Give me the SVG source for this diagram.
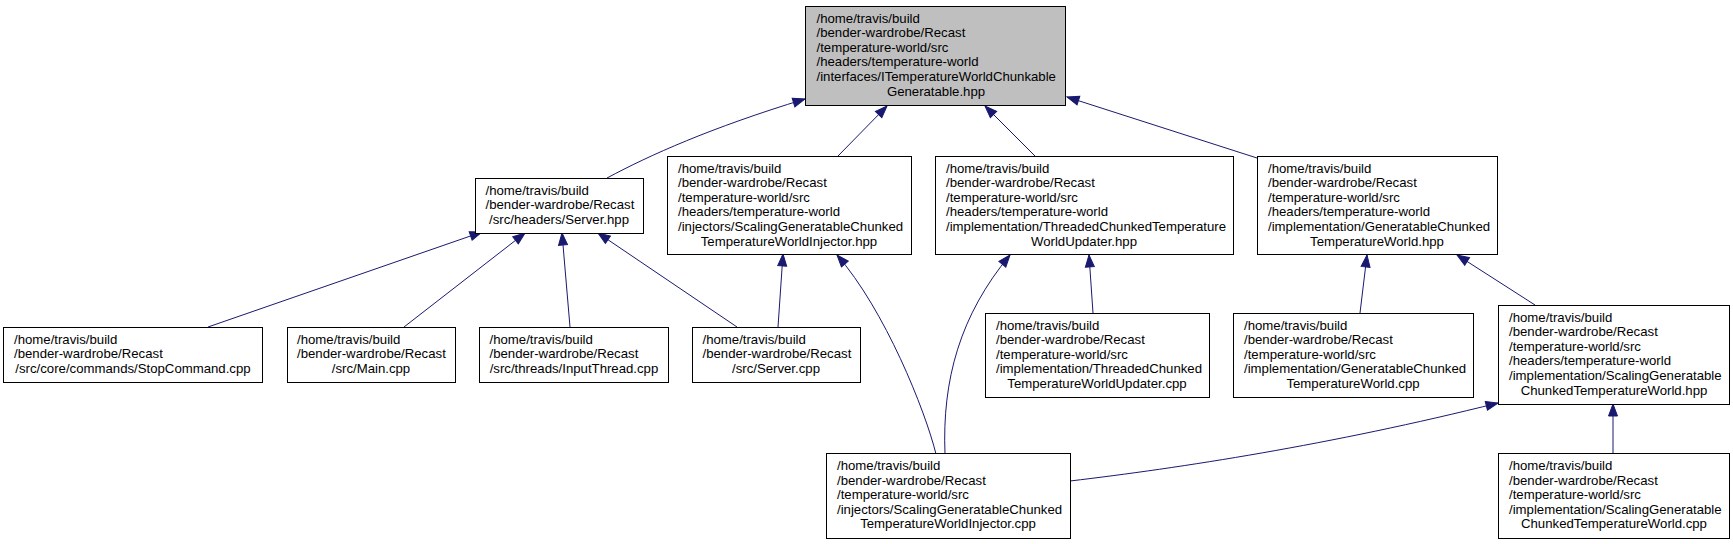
<svg xmlns="http://www.w3.org/2000/svg" width="1733" height="544" viewBox="0 0 1733 544">
<style>
.n rect{fill:#ffffff;stroke:#000000;stroke-width:1}
.n.root rect{fill:#bfbfbf}
.n text{font-family:"Liberation Sans",Arial,Helvetica,sans-serif;font-size:13.2px;fill:#000000}
.n text.c{text-anchor:middle}
.e path{fill:none;stroke:#191970;stroke-width:1;marker-end:url(#arr)}
</style>
<defs>
<marker id="arr" markerUnits="userSpaceOnUse" markerWidth="16" markerHeight="14" refX="12" refY="5" orient="auto" overflow="visible">
<path d="M0,0.5 L12,5 L0,9.5 Z" fill="#191970" stroke="#191970" stroke-width="1"/>
</marker>
</defs>
<rect x="0" y="0" width="1733" height="544" fill="#ffffff"/>
<g id="edges" class="e">
<path d="M607,178 C650,155 710,128 805,99"/>
<path d="M838,156 L887,106"/>
<path d="M1035,156 L985,106"/>
<path d="M1257,158 L1067,97"/>
<path d="M208,327 L482,232"/>
<path d="M404,327 L525,233"/>
<path d="M570,327 L562,233"/>
<path d="M737,327 L598,233"/>
<path d="M778,327 L783,254"/>
<path d="M936,454 C925,410 885,310 837,255"/>
<path d="M945,454 C942,380 960,315 1010,255"/>
<path d="M1093,313 L1089,255"/>
<path d="M1360,313 L1367,255"/>
<path d="M1535,305 L1457,255"/>
<path d="M1070,481 C1180,468 1330,445 1498,403"/>
<path d="M1613,453 L1613,404"/>
</g>
<g id="node1" class="n root">
<rect x="805.5" y="6.5" width="260" height="99"/>
<text x="816.5" y="22.5">/home/travis/build</text>
<text x="816.5" y="37.1">/bender-wardrobe/Recast</text>
<text x="816.5" y="51.7">/temperature-world/src</text>
<text x="816.5" y="66.3">/headers/temperature-world</text>
<text x="816.5" y="80.9">/interfaces/ITemperatureWorldChunkable</text>
<text class="c" x="936" y="95.5">Generatable.hpp</text>
</g>
<g id="node2" class="n">
<rect x="475.5" y="178.5" width="168" height="55"/>
<text x="485.5" y="194.5">/home/travis/build</text>
<text x="485.5" y="209.1">/bender-wardrobe/Recast</text>
<text class="c" x="559" y="223.7">/src/headers/Server.hpp</text>
</g>
<g id="node3" class="n">
<rect x="667.5" y="156.5" width="244" height="98"/>
<text x="678" y="172.5">/home/travis/build</text>
<text x="678" y="187.1">/bender-wardrobe/Recast</text>
<text x="678" y="201.7">/temperature-world/src</text>
<text x="678" y="216.3">/headers/temperature-world</text>
<text x="678" y="230.9">/injectors/ScalingGeneratableChunked</text>
<text class="c" x="789" y="245.5">TemperatureWorldInjector.hpp</text>
</g>
<g id="node4" class="n">
<rect x="935.5" y="156.5" width="298" height="98"/>
<text x="946" y="172.5">/home/travis/build</text>
<text x="946" y="187.1">/bender-wardrobe/Recast</text>
<text x="946" y="201.7">/temperature-world/src</text>
<text x="946" y="216.3">/headers/temperature-world</text>
<text x="946" y="230.9">/implementation/ThreadedChunkedTemperature</text>
<text class="c" x="1084" y="245.5">WorldUpdater.hpp</text>
</g>
<g id="node5" class="n">
<rect x="1257.5" y="156.5" width="240" height="98"/>
<text x="1268" y="172.5">/home/travis/build</text>
<text x="1268" y="187.1">/bender-wardrobe/Recast</text>
<text x="1268" y="201.7">/temperature-world/src</text>
<text x="1268" y="216.3">/headers/temperature-world</text>
<text x="1268" y="230.9">/implementation/GeneratableChunked</text>
<text class="c" x="1377" y="245.5">TemperatureWorld.hpp</text>
</g>
<g id="node6" class="n">
<rect x="3.5" y="327.5" width="259" height="55"/>
<text x="14" y="343.5">/home/travis/build</text>
<text x="14" y="358.1">/bender-wardrobe/Recast</text>
<text class="c" x="133" y="372.7">/src/core/commands/StopCommand.cpp</text>
</g>
<g id="node7" class="n">
<rect x="287.5" y="327.5" width="168" height="55"/>
<text x="297" y="343.5">/home/travis/build</text>
<text x="297" y="358.1">/bender-wardrobe/Recast</text>
<text class="c" x="371" y="372.7">/src/Main.cpp</text>
</g>
<g id="node8" class="n">
<rect x="479.5" y="327.5" width="189" height="55"/>
<text x="489.5" y="343.5">/home/travis/build</text>
<text x="489.5" y="358.1">/bender-wardrobe/Recast</text>
<text class="c" x="574" y="372.7">/src/threads/InputThread.cpp</text>
</g>
<g id="node9" class="n">
<rect x="692.5" y="327.5" width="168" height="55"/>
<text x="702.5" y="343.5">/home/travis/build</text>
<text x="702.5" y="358.1">/bender-wardrobe/Recast</text>
<text class="c" x="776" y="372.7">/src/Server.cpp</text>
</g>
<g id="node10" class="n">
<rect x="985.5" y="313.5" width="224" height="84"/>
<text x="996" y="329.5">/home/travis/build</text>
<text x="996" y="344.1">/bender-wardrobe/Recast</text>
<text x="996" y="358.7">/temperature-world/src</text>
<text x="996" y="373.3">/implementation/ThreadedChunked</text>
<text class="c" x="1097" y="387.9">TemperatureWorldUpdater.cpp</text>
</g>
<g id="node11" class="n">
<rect x="1233.5" y="313.5" width="240" height="84"/>
<text x="1244" y="329.5">/home/travis/build</text>
<text x="1244" y="344.1">/bender-wardrobe/Recast</text>
<text x="1244" y="358.7">/temperature-world/src</text>
<text x="1244" y="373.3">/implementation/GeneratableChunked</text>
<text class="c" x="1353" y="387.9">TemperatureWorld.cpp</text>
</g>
<g id="node12" class="n">
<rect x="1498.5" y="305.5" width="231" height="99"/>
<text x="1509" y="321.5">/home/travis/build</text>
<text x="1509" y="336.1">/bender-wardrobe/Recast</text>
<text x="1509" y="350.7">/temperature-world/src</text>
<text x="1509" y="365.3">/headers/temperature-world</text>
<text x="1509" y="379.9">/implementation/ScalingGeneratable</text>
<text class="c" x="1614" y="394.5">ChunkedTemperatureWorld.hpp</text>
</g>
<g id="node13" class="n">
<rect x="826.5" y="453.5" width="244" height="85"/>
<text x="837" y="470">/home/travis/build</text>
<text x="837" y="484.6">/bender-wardrobe/Recast</text>
<text x="837" y="499.2">/temperature-world/src</text>
<text x="837" y="513.8">/injectors/ScalingGeneratableChunked</text>
<text class="c" x="948" y="528.4">TemperatureWorldInjector.cpp</text>
</g>
<g id="node14" class="n">
<rect x="1498.5" y="453.5" width="231" height="85"/>
<text x="1509" y="470">/home/travis/build</text>
<text x="1509" y="484.6">/bender-wardrobe/Recast</text>
<text x="1509" y="499.2">/temperature-world/src</text>
<text x="1509" y="513.8">/implementation/ScalingGeneratable</text>
<text class="c" x="1614" y="528.4">ChunkedTemperatureWorld.cpp</text>
</g>
</svg>
